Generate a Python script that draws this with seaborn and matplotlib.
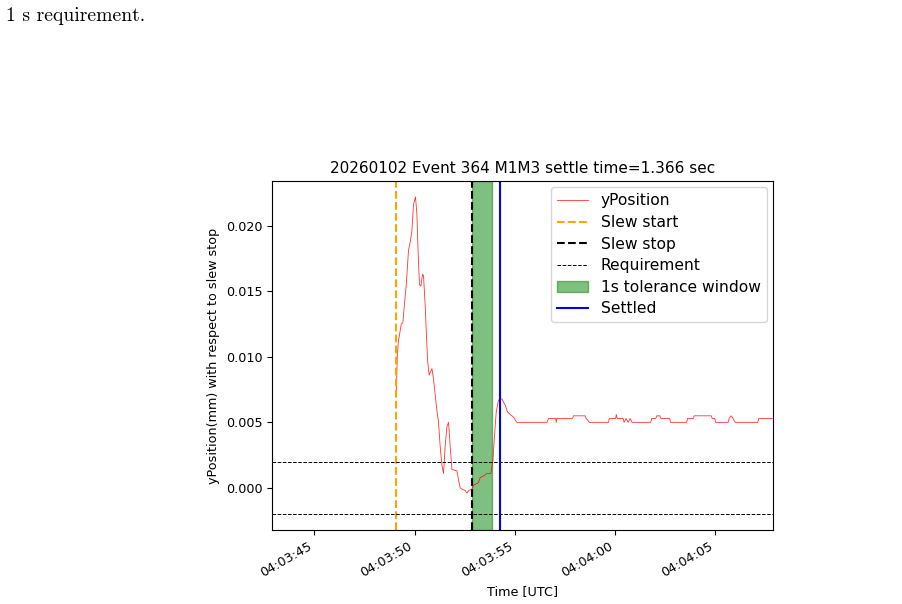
import matplotlib
matplotlib.use("Agg")
import matplotlib.dates as mdates
import matplotlib.pyplot as plt
import pandas as pd
import seaborn as sns

# seconds after 04:03:00 UTC on 2026-01-02
t_sec = [49.09, 49.13, 49.18, 49.33, 49.41, 49.50, 49.58, 49.69, 49.78, 49.86,
         49.94, 50.04, 50.11, 50.17, 50.24, 50.31, 50.39, 50.44, 50.52, 50.64,
         50.72, 50.86, 50.94, 51.10, 51.19, 51.27, 51.36, 51.44, 51.52, 51.61,
         51.69, 51.77, 51.86, 52.11, 52.19, 52.27, 52.36, 52.52, 52.61, 52.69,
         52.85, 52.93, 53.18, 53.27, 53.43, 53.60, 53.80, 53.90, 53.97, 54.07,
         54.18, 54.35, 54.52, 54.63, 54.77, 54.93, 55.10, 56.60, 56.68, 57.04,
         57.06, 57.10, 57.88, 57.92, 58.51, 58.56, 58.72, 59.67, 59.71, 60.03,
         60.06, 60.11, 60.40, 60.45, 60.55, 60.65, 60.75, 60.85, 61.78, 61.83,
         62.03, 62.08, 62.23, 62.28, 62.72, 62.77, 63.57, 63.62, 63.90, 63.95,
         64.80, 64.85, 64.97, 65.02, 65.64, 65.69, 65.79, 65.89, 65.99, 67.12,
         67.17, 68.24]
y_pos = [0.0074, 0.0100, 0.0111, 0.0125, 0.0126, 0.0142, 0.0155, 0.0181, 0.0188, 0.0196,
         0.0216, 0.0222, 0.0209, 0.0180, 0.0155, 0.0154, 0.0163, 0.0162, 0.0140, 0.0098,
         0.0086, 0.0091, 0.0083, 0.0060, 0.0050, 0.0032, 0.0017, 0.0011, 0.0032, 0.0047,
         0.0050, 0.0032, 0.0014, 0.0013, 0.0006, 0.0000, -0.0001, -0.0002, -0.0004, -0.0002,
         -0.0001, 0.0002, 0.0004, 0.0008, 0.0009, 0.0011, 0.0011, 0.0020, 0.0037, 0.0058,
         0.0067, 0.0068, 0.0063, 0.0058, 0.0056, 0.0054, 0.0050, 0.0050, 0.0053, 0.0053,
         0.0050, 0.0053, 0.0053, 0.0055, 0.0055, 0.0053, 0.0050, 0.0050, 0.0053, 0.0053,
         0.0056, 0.0053, 0.0053, 0.0050, 0.0053, 0.0050, 0.0053, 0.0050, 0.0050, 0.0053,
         0.0053, 0.0055, 0.0055, 0.0053, 0.0053, 0.0050, 0.0050, 0.0053, 0.0053, 0.0055,
         0.0055, 0.0053, 0.0053, 0.0050, 0.0050, 0.0053, 0.0055, 0.0053, 0.0050, 0.0050,
         0.0053, 0.0053]

slew_start_sec = 49.08
slew_stop_sec = 52.88
settle_time = 1.366
requirement = 0.002


def main():
    plt.rcParams["font.size"] = 9.2
    t0 = pd.Timestamp("2026-01-02 04:03:00")
    df = pd.DataFrame({"time": t0 + pd.to_timedelta(t_sec, unit="s"), "yPosition": y_pos})
    slew_start = t0 + pd.to_timedelta(slew_start_sec, unit="s")
    slew_stop = t0 + pd.to_timedelta(slew_stop_sec, unit="s")
    settled = slew_stop + pd.to_timedelta(settle_time, unit="s")

    fig = plt.figure(figsize=(9.02, 6.04), dpi=100)
    ax = fig.add_axes([272 / 902, 1 - 530 / 604, 501 / 902, 349 / 604])
    fig.text(6 / 902, 1 - 21 / 604, "1 s requirement.", family="cmr10", fontsize=14.2)

    sns.lineplot(data=df, x="time", y="yPosition", ax=ax, color="red", lw=0.6, alpha=0.8,
                 label="yPosition")
    ax.axvline(slew_start, color="orange", ls="--", label="Slew start")
    ax.axvline(slew_stop, color="black", ls="--", label="Slew stop")
    ax.axhline(requirement, color="black", ls="--", lw=0.7, label="Requirement")
    ax.axhline(-requirement, color="black", ls="--", lw=0.7)
    ax.axvspan(slew_stop, slew_stop + pd.to_timedelta(1, unit="s"), color="green", alpha=0.5,
               label="1s tolerance window")
    ax.axvline(settled, color="blue", label="Settled")

    ax.set_xlim(slew_stop - pd.to_timedelta(10, unit="s"), slew_stop + pd.to_timedelta(15, unit="s"))
    ax.xaxis.set_major_formatter(mdates.DateFormatter("%H:%M:%S"))
    for lab in ax.get_xticklabels():
        lab.set_rotation(30)
        lab.set_ha("right")
    ax.set_title("20260102 Event 364 M1M3 settle time=1.366 sec", fontsize=11)
    ax.set_xlabel("Time [UTC]")
    ax.set_ylabel("yPosition(mm) with respect to slew stop")
    ax.legend(loc="upper right", fontsize=11.2, labelspacing=0.42, borderaxespad=0.4)

    fig.savefig("out.png", dpi=100)
    plt.close(fig)


if __name__ == '__main__':
    main()
